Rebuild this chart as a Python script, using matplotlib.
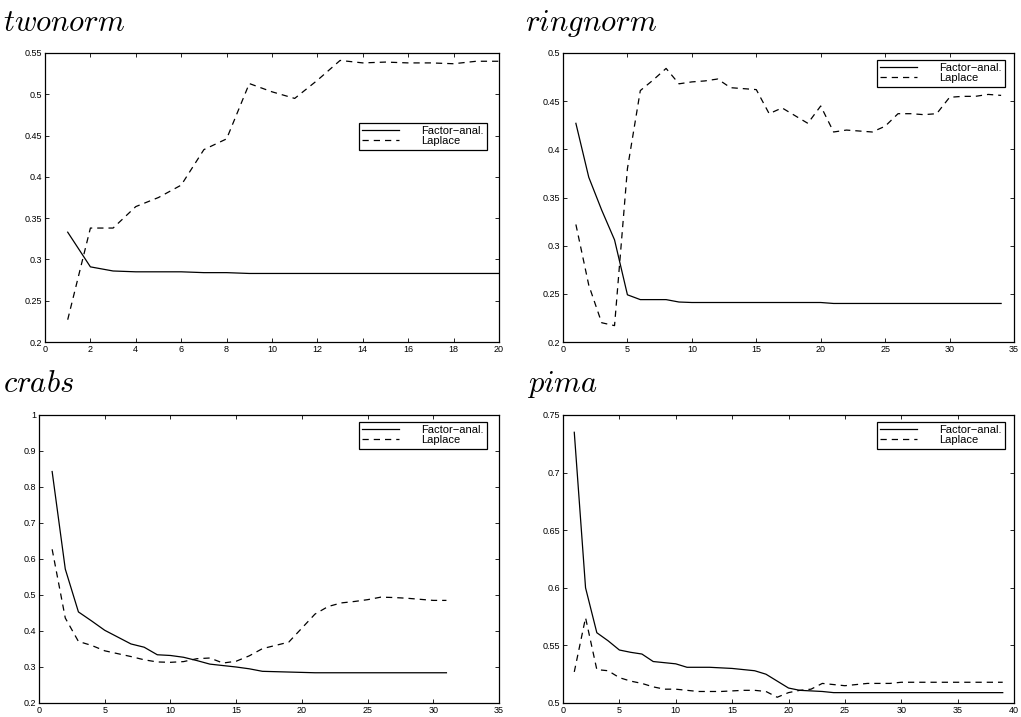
import matplotlib
matplotlib.use("Agg")
import matplotlib.pyplot as plt

plt.rcParams['font.family'] = ['Liberation Sans', 'DejaVu Sans']
plt.rcParams['mathtext.fontset'] = 'cm'

# twonorm
twonorm_x = list(range(1, 21))
twonorm_fa = [0.333, 0.291, 0.286, 0.285, 0.285, 0.285, 0.284, 0.284, 0.283, 0.283,
              0.283, 0.283, 0.283, 0.283, 0.283, 0.283, 0.283, 0.283, 0.283, 0.283]
twonorm_lap = [0.227, 0.338, 0.338, 0.364, 0.375, 0.390, 0.433, 0.446, 0.513, 0.503,
               0.495, 0.517, 0.541, 0.538, 0.539, 0.538, 0.538, 0.537, 0.540, 0.540]

# ringnorm
ringnorm_x = list(range(1, 35))
ringnorm_fa = [0.427, 0.371, 0.337, 0.306, 0.249, 0.244, 0.244, 0.244, 0.2415, 0.241,
               0.241, 0.241, 0.241, 0.241, 0.241, 0.241, 0.241, 0.241, 0.241, 0.241,
               0.240, 0.240, 0.240, 0.240, 0.240, 0.240, 0.240, 0.240, 0.240, 0.240,
               0.240, 0.240, 0.240, 0.240]
ringnorm_lap = [0.322, 0.259, 0.220, 0.217, 0.380, 0.461, 0.472, 0.484, 0.468, 0.470,
                0.471, 0.473, 0.464, 0.463, 0.462, 0.437, 0.443, 0.435, 0.427, 0.445,
                0.418, 0.420, 0.419, 0.418, 0.424, 0.437, 0.437, 0.436, 0.437, 0.454,
                0.455, 0.455, 0.457, 0.456]

# crabs
crabs_x = list(range(1, 32))
crabs_fa = [0.843, 0.572, 0.453, 0.428, 0.402, 0.383, 0.364, 0.355, 0.334, 0.332,
            0.327, 0.318, 0.308, 0.304, 0.300, 0.295, 0.288, 0.287, 0.286, 0.285,
            0.284, 0.284, 0.284, 0.284, 0.284, 0.284, 0.284, 0.284, 0.284, 0.284, 0.284]
crabs_lap = [0.627, 0.436, 0.371, 0.360, 0.345, 0.337, 0.329, 0.320, 0.314, 0.313,
             0.315, 0.323, 0.325, 0.311, 0.316, 0.331, 0.351, 0.360, 0.369, 0.408,
             0.447, 0.468, 0.478, 0.482, 0.487, 0.494, 0.493, 0.491, 0.488, 0.485, 0.485]

# pima
pima_x = list(range(1, 40))
pima_fa = [0.735, 0.600, 0.561, 0.554, 0.546, 0.544, 0.5425, 0.536, 0.535, 0.534,
           0.531, 0.531, 0.531, 0.5305, 0.530, 0.529, 0.528, 0.525, 0.519, 0.513,
           0.511, 0.5105, 0.510, 0.509, 0.509, 0.509, 0.509, 0.509, 0.509, 0.509,
           0.509, 0.509, 0.509, 0.509, 0.509, 0.509, 0.509, 0.509, 0.509]
pima_lap = [0.527, 0.574, 0.529, 0.528, 0.522, 0.519, 0.517, 0.514, 0.512, 0.512,
            0.511, 0.510, 0.510, 0.510, 0.5105, 0.511, 0.511, 0.510, 0.505, 0.509,
            0.511, 0.512, 0.517, 0.516, 0.515, 0.516, 0.517, 0.517, 0.517, 0.518,
            0.518, 0.518, 0.518, 0.518, 0.518, 0.518, 0.518, 0.518, 0.518]

W, H = 1021, 717
fig = plt.figure(figsize=(W / 100, H / 100), dpi=100)


def make_axes(x0, y0, x1, y1):
    # pixel box -> figure fraction
    return fig.add_axes([x0 / W, 1 - y1 / H, (x1 - x0) / W, (y1 - y0) / H])


def panel(ax, x, fa, lap, xlim, ylim, xticks, yticks, leg_box):
    ax.plot(x, fa, color='black', lw=0.9, label='Factor\u2212anal.')
    ax.plot(x, lap, color='black', lw=0.9, dashes=(5, 4), label='Laplace')
    ax.set_xlim(xlim)
    ax.set_ylim(ylim)
    ax.set_xticks(xticks)
    ax.set_yticks(yticks)
    ax.set_yticklabels([fmt(v) for v in yticks])
    ax.tick_params(direction='in', top=True, right=True, labelsize=6.5,
                   length=3, width=0.6, pad=2)
    for s in ax.spines.values():
        s.set_linewidth(0.9)
    leg = ax.legend(loc='upper right', bbox_to_anchor=leg_box, fontsize=8,
                    fancybox=False, framealpha=1, edgecolor='black',
                    handlelength=3.3, handletextpad=2.0, labelspacing=0.0,
                    borderpad=0.3, borderaxespad=0)
    leg.get_frame().set_linewidth(0.9)


def fmt(v):
    return ('%.2f' % v).rstrip('0').rstrip('.')


ax1 = make_axes(45, 53, 499, 342)
panel(ax1, twonorm_x, twonorm_fa, twonorm_lap, (0, 20), (0.2, 0.55),
      range(0, 21, 2), [0.2, 0.25, 0.3, 0.35, 0.4, 0.45, 0.5, 0.55],
      (0.974, 0.758))

ax2 = make_axes(563, 53, 1014, 342)
panel(ax2, ringnorm_x, ringnorm_fa, ringnorm_lap, (0, 35), (0.2, 0.5),
      range(0, 36, 5), [0.2, 0.25, 0.3, 0.35, 0.4, 0.45, 0.5],
      (0.98, 0.976))

ax3 = make_axes(39, 415, 499, 703)
panel(ax3, crabs_x, crabs_fa, crabs_lap, (0, 35), (0.2, 1.0),
      range(0, 36, 5), [0.2, 0.3, 0.4, 0.5, 0.6, 0.7, 0.8, 0.9, 1.0],
      (0.974, 0.976))

ax4 = make_axes(563, 415, 1014, 703)
panel(ax4, pima_x, pima_fa, pima_lap, (0, 40), (0.5, 0.75),
      range(0, 41, 5), [0.5, 0.55, 0.6, 0.65, 0.7, 0.75],
      (0.98, 0.976))

# titles in math italic
fig.text(3 / W, 1 - 31 / H, r'$twonorm$', fontsize=22)
fig.text(525 / W, 1 - 31 / H, r'$ringnorm$', fontsize=22)
fig.text(3 / W, 1 - 392 / H, r'$crabs$', fontsize=22)
fig.text(527 / W, 1 - 392 / H, r'$pima$', fontsize=22)

fig.savefig('out.png', dpi=100)
